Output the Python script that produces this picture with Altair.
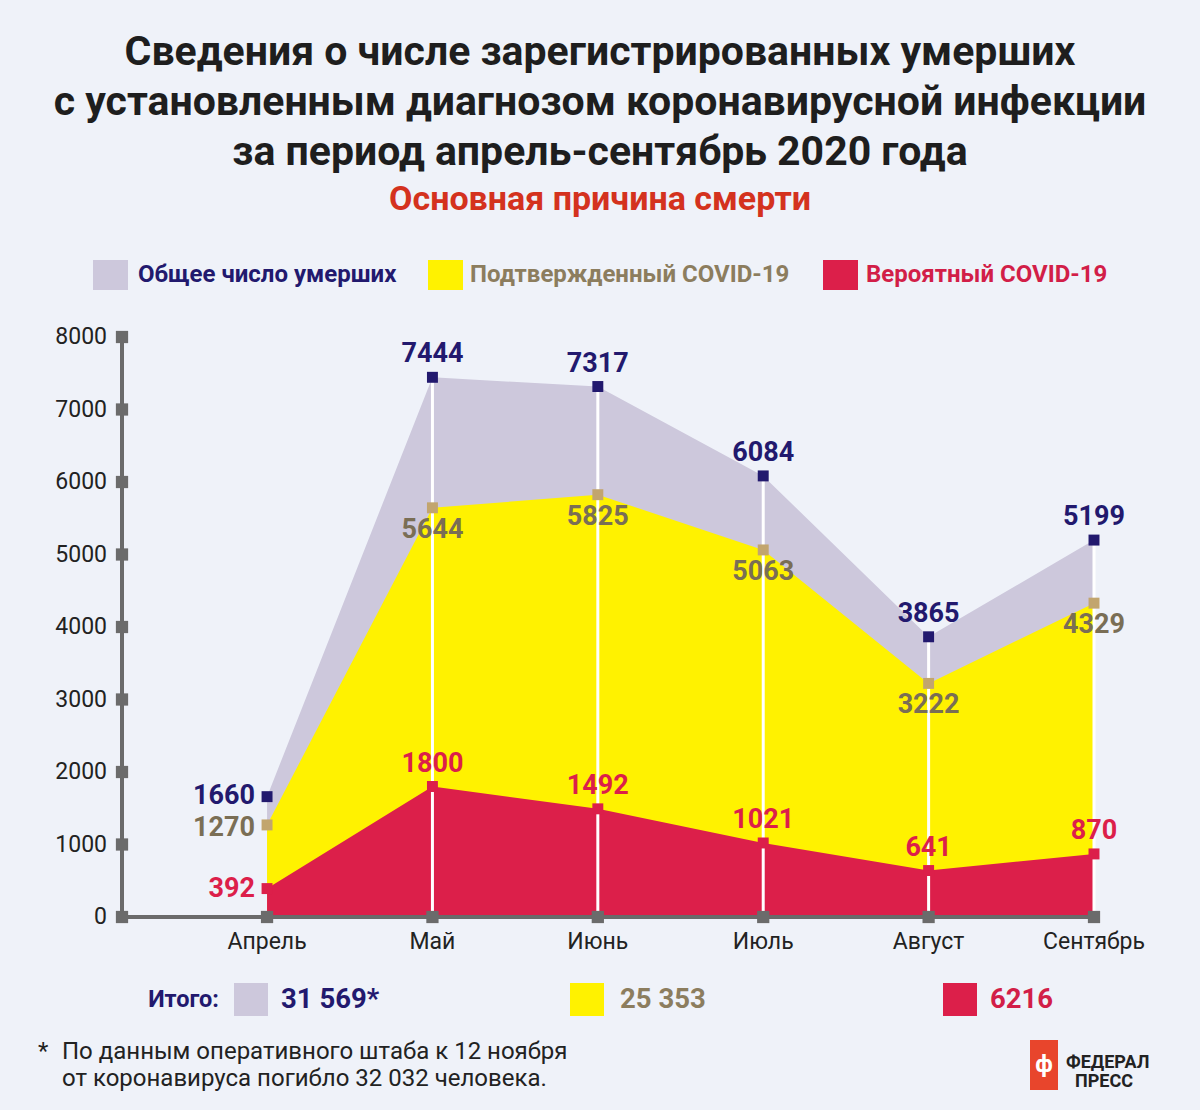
import altair as alt
import pandas as pd

months = ["Апрель", "Май", "Июнь", "Июль", "Август", "Сентябрь"]
total = [1660, 7444, 7317, 6084, 3865, 5199]
confirmed = [1270, 5644, 5825, 5063, 3222, 4329]
probable = [392, 1800, 1492, 1021, 641, 870]
y_ticks = [0, 1000, 2000, 3000, 4000, 5000, 6000, 7000, 8000]

BG = "#EFF2F9"
LAV = "#CDC8DC"
YEL = "#FFF200"
RED = "#DC1F4A"
NAVY = "#22196E"
TAN = "#C2A56E"
TANTXT = "#7A6E55"
GRAY = "#6B6B6B"
FONT = "Roboto"

idx = list(range(len(months)))
df = pd.DataFrame({"idx": idx, "month": months, "total": total,
                   "confirmed": confirmed, "probable": probable})
ticks_df = pd.DataFrame({"v": y_ticks})

W, H = 972, 580
XMIN = -0.877
xs = alt.Scale(domain=[XMIN, 5], nice=False, zero=False)
ys = alt.Scale(domain=[0, 8000], nice=False)

X = alt.X("idx:Q", scale=xs, axis=None)
base = alt.Chart(df)

def area(field, color):
    return base.mark_area(color=color, opacity=1).encode(
        x=X, y=alt.Y(f"{field}:Q", scale=ys, axis=None))

areas = area("total", LAV) + area("confirmed", YEL) + area("probable", RED)

rules = base.transform_filter("datum.idx > 0").transform_calculate(zero="0").mark_rule(
    color="white", strokeWidth=3).encode(
    x=X, y=alt.Y("zero:Q", scale=ys, axis=None), y2="total:Q")

# axes
y_axis_line = alt.Chart(ticks_df).mark_rule(color=GRAY, strokeWidth=3).encode(
    x=alt.value(0), y=alt.value(0), y2=alt.value(H))
x_axis_line = alt.Chart(ticks_df).mark_rule(color=GRAY, strokeWidth=3).encode(
    x=alt.value(0), x2=alt.value(W), y=alt.value(H))
y_marks = alt.Chart(ticks_df).mark_square(color=GRAY, size=150, opacity=1).encode(
    x=alt.value(0), y=alt.Y("v:Q", scale=ys, axis=None))
y_labels = alt.Chart(ticks_df).mark_text(align="right", baseline="middle", fontSize=23,
                                         font=FONT, color="#222222", dx=-15).encode(
    x=alt.value(0), y=alt.Y("v:Q", scale=ys, axis=None), text="v:Q")
x_marks = base.mark_square(color=GRAY, size=150, opacity=1).encode(
    x=X, y=alt.value(H))
x_labels = base.mark_text(baseline="middle", fontSize=23, font=FONT, color="#222222").encode(
    x=X, y=alt.value(H + 25), text="month:N")

def markers(field, color):
    return base.mark_square(color=color, size=120, opacity=1).encode(
        x=X, y=alt.Y(f"{field}:Q", scale=ys, axis=None))

mk = markers("total", NAVY) + markers("confirmed", TAN) + markers("probable", RED)

def labels(field, color, dy_other, dy_first):
    first = base.transform_filter("datum.idx == 0").mark_text(
        align="right", baseline="middle", dx=-12, dy=dy_first, fontSize=27, fontWeight="bold",
        font=FONT, color=color).encode(
        x=X, y=alt.Y(f"{field}:Q", scale=ys, axis=None), text=f"{field}:Q")
    rest = base.transform_filter("datum.idx > 0").mark_text(
        align="center", baseline="middle", dy=dy_other, fontSize=27, fontWeight="bold",
        font=FONT, color=color).encode(
        x=X, y=alt.Y(f"{field}:Q", scale=ys, axis=None), text=f"{field}:Q")
    return first + rest

lbl = (labels("total", NAVY, -23, -1) + labels("confirmed", TANTXT, 22, 3)
       + labels("probable", RED, -23, 0))

one = pd.DataFrame({"a": [0]})

def txt(s, x, y, size, color, weight="normal", align="left"):
    return alt.Chart(one).mark_text(align=align, baseline="middle", fontSize=size,
                                    fontWeight=weight, font=FONT, color=color).encode(
        x=alt.value(x), y=alt.value(y), text=alt.value(s))

def box(x1, x2, y1, y2, color):
    return alt.Chart(one).mark_rect(color=color).encode(
        x=alt.value(x1), x2=alt.value(x2), y=alt.value(y1), y2=alt.value(y2))

OX, OY = 122, 337
def T(s, x, y, size, color, weight="normal", align="left"):
    return txt(s, x - OX, y - OY, size, color, weight, align)
def B(x1, x2, y1, y2, color):
    return box(x1 - OX, x2 - OX, y1 - OY, y2 - OY, color)

deco = [
    T("Сведения о числе зарегистрированных умерших", 600, 53, 41, "#1E1E1E", "bold", "center"),
    T("с установленным диагнозом коронавирусной инфекции", 600, 103, 41, "#1E1E1E", "bold", "center"),
    T("за период апрель-сентябрь 2020 года", 600, 153, 41, "#1E1E1E", "bold", "center"),
    T("Основная причина смерти", 600, 200, 34, "#D4321E", "bold", "center"),
    B(93, 128, 260, 290, LAV), T("Общее число умерших", 138, 275, 24, NAVY, "bold"),
    B(428, 463, 260, 290, YEL), T("Подтвержденный COVID-19", 470, 275, 24, "#8C7D5E", "bold"),
    B(823, 858, 260, 290, RED), T("Вероятный COVID-19", 866, 275, 24, "#D21E48", "bold"),
    T("Итого:", 219, 1000, 23.5, NAVY, "bold", "right"),
    B(234, 268, 983, 1016, LAV), T("31 569*", 281, 1000, 27.5, NAVY, "bold"),
    B(570, 604, 983, 1016, YEL), T("25 353", 620, 1000, 27.5, "#8C7D5E", "bold"),
    B(943, 977, 983, 1016, RED), T("6216", 990, 1000, 27.5, "#D21E48", "bold"),
    T("*", 38, 1052, 24, "#222222"),
    T("По данным оперативного штаба к 12 ноября", 62, 1052, 24, "#222222"),
    T("от коронавируса погибло 32 032 человека.", 62, 1079, 24, "#222222"),
    B(1030, 1058, 1040, 1090, "#E8452C"),
    T("ф", 1044, 1065, 24, "white", "bold", "center"),
    T("ФЕДЕРАЛ", 1066, 1063, 18, "#222222", "bold"),
    T("ПРЕСС", 1075, 1082, 18, "#222222", "bold"),
]

layers = [areas, rules, y_axis_line, x_axis_line, y_marks, x_marks, y_labels, x_labels,
          mk, lbl] + deco

chart = alt.layer(*layers).properties(
    width=W, height=H, background=BG,
    padding={"left": OX, "top": OY, "right": 1200 - OX - W, "bottom": 1110 - OY - H},
    autosize=alt.AutoSizeParams(type="none"),
).configure_view(stroke=None)

chart.save("out.html", embed_options={"renderer": "svg", "actions": False})
